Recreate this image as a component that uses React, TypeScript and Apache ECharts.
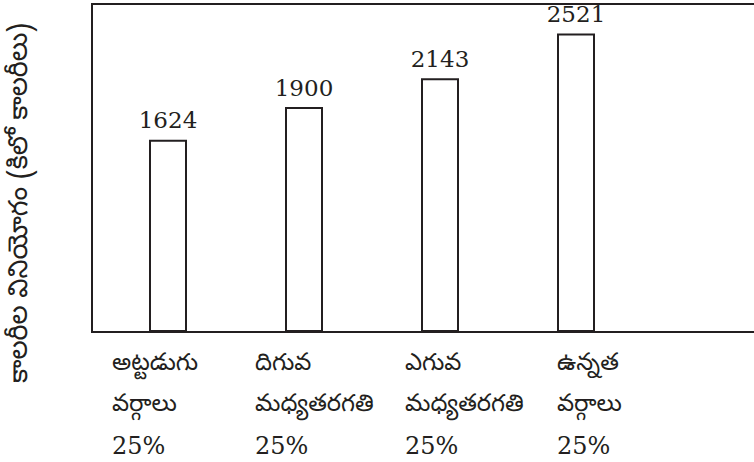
import React, { useEffect, useRef } from "react";
import * as echarts from "echarts";

const categoryLine1 = ["అట్టడుగు", "దిగువ", "ఎగువ", "ఉన్నత"];
const categoryLine2 = ["వర్గాలు", "మధ్యతరగతి", "మధ్యతరగతి", "వర్గాలు"];
const categoryShare = ["25%", "25%", "25%", "25%"];
const calories = [1624, 1900, 2143, 2521];
const yAxisTitle = "కాలరీల వినియోగం (కిలో కాలరీలు)";
const labelShift = [56, 49, 35, 19];

const teluguFont = "'Noto Sans Telugu', 'Noto Serif Telugu', 'Noto Sans', sans-serif";
const serifFont = "'DejaVu Serif', serif";
const ink = "#231f20";

export default function App() {
  const ref = useRef<HTMLDivElement>(null);
  useEffect(() => {
    if (!ref.current) return;
    document.body.style.margin = "0";
    const chart = echarts.init(ref.current, null, { renderer: "svg" });
    const categories = categoryLine1.map((a, i) => `${a} ${categoryLine2[i]}`);
    chart.setOption({
      animation: false,
      grid: { left: 100, right: 110, top: 4, bottom: 130, show: false },
      xAxis: {
        type: "category",
        data: categories,
        axisLine: { show: false },
        axisTick: { show: false },
        axisLabel: { show: false },
      },
      yAxis: {
        type: "value",
        min: 0,
        max: 2770,
        show: false,
        splitLine: { show: false },
      },
      series: [
        {
          type: "bar",
          data: calories,
          barWidth: 38,
          itemStyle: { color: "#ffffff", borderColor: ink, borderWidth: 2 },
          label: {
            show: true,
            position: "top",
            distance: 8,
            fontFamily: serifFont,
            fontSize: 23,
            color: ink,
          },
        },
      ],
    });
    const labelTexts = categories.map((c, i) => {
      const cx = chart.convertToPixel({ xAxisIndex: 0 }, c) as number;
      return {
        type: "text",
        x: cx - labelShift[i],
        y: 345,
        style: {
          text: `{t|${categoryLine1[i]}}\n{t|${categoryLine2[i]}}\n{n|${categoryShare[i]}}`,
          align: "left",
          verticalAlign: "top",
          rich: {
            t: { fontFamily: teluguFont, fontSize: 24, lineHeight: 41, fill: ink, align: "left" },
            n: { fontFamily: serifFont, fontSize: 24, lineHeight: 38, fill: ink, align: "left" },
          },
        },
      };
    });
    chart.setOption({
      graphic: [
        {
          type: "rect",
          shape: { x: 92, y: 4, width: 720, height: 328 },
          style: { fill: "none", stroke: ink, lineWidth: 2 },
          z: 10,
        },
        {
          type: "text",
          x: 22,
          y: 203,
          rotation: Math.PI / 2,
          style: {
            text: yAxisTitle,
            fontFamily: teluguFont,
            fontSize: 27,
            fill: ink,
            align: "center",
            verticalAlign: "middle",
          },
        },
        ...labelTexts,
      ],
    });
    return () => chart.dispose();
  }, []);
  return <div ref={ref} style={{ width: 754, height: 462 }} />;
}
